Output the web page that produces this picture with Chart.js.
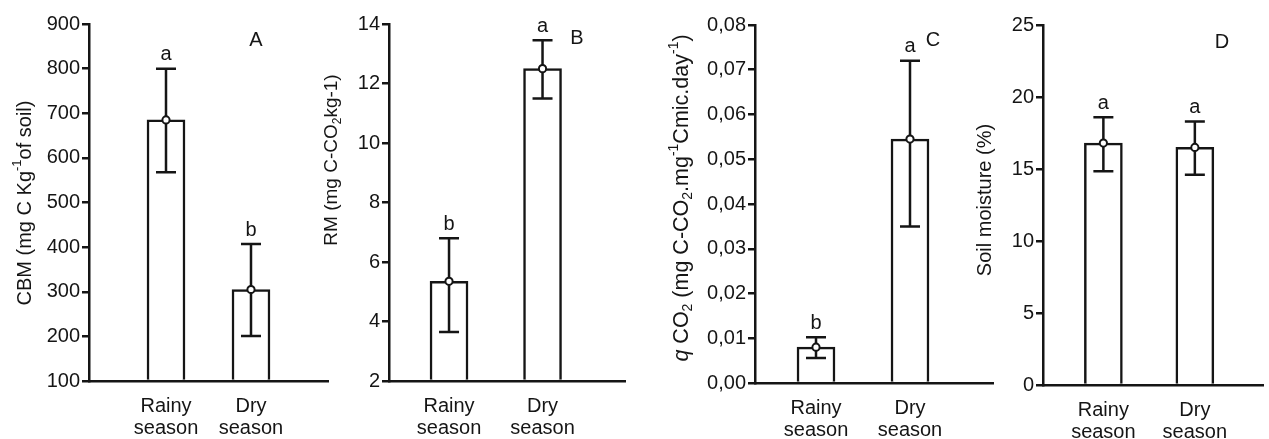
<!DOCTYPE html>
<html><head><meta charset="utf-8">
<script src="https://cdn.jsdelivr.net/npm/chart.js@4.4.1/dist/chart.umd.min.js"></script>
<style>
html,body{margin:0;padding:0;background:#fff;}
#wrap{position:relative;width:1269px;height:439px;overflow:hidden;background:#fff;}
canvas{position:absolute;left:0;top:0;}
</style></head><body>
<div id="wrap">
<canvas id="cA" width="1269" height="439"></canvas>
<canvas id="cB" width="1269" height="439"></canvas>
<canvas id="cC" width="1269" height="439"></canvas>
<canvas id="cD" width="1269" height="439"></canvas>
</div>
<script>
// ---------- DATA ----------
const categories = [['Rainy', 'season'], ['Dry', 'season']];

const cbmMean    = [685, 305];
const cbmUpper   = [800, 407];
const cbmLower   = [568, 201];
const cbmLetters = ['a', 'b'];
const cbmTicks   = [100, 200, 300, 400, 500, 600, 700, 800, 900];

const rmMean    = [5.35, 12.5];
const rmUpper   = [6.8, 13.45];
const rmLower   = [3.65, 11.5];
const rmLetters = ['b', 'a'];
const rmTicks   = [2, 4, 6, 8, 10, 12, 14];

const qco2Mean    = [0.008, 0.0545];
const qco2Upper   = [0.0102, 0.072];
const qco2Lower   = [0.0056, 0.035];
const qco2Letters = ['b', 'a'];
const qco2Ticks   = [0, 0.01, 0.02, 0.03, 0.04, 0.05, 0.06, 0.07, 0.08];

const moistMean    = [16.8, 16.5];
const moistUpper   = [18.6, 18.3];
const moistLower   = [14.85, 14.6];
const moistLetters = ['a', 'a'];
const moistTicks   = [0, 5, 10, 15, 20, 25];

// ---------- LAYOUT / STYLE ----------
const W = 1269, H = 439;
const INK = '#151515';
const LW = 2.5;
const FONT = '"Liberation Sans", Arial, Helvetica, sans-serif';
const Y_W = 70, X_H = 55;

const panels = [
  { id: 'cA', mean: cbmMean, upper: cbmUpper, lower: cbmLower, letters: cbmLetters, ticks: cbmTicks,
    fmt: v => String(v), axisX: 89, right: 328, top: 24, bottom: 381, xMin: 0.094, xMax: 2.906,
    tag: 'A', tagPos: [256, 40], titlePos: [25, 203], titleSize: 20,
    title: [{t: 'CBM (mg C Kg'}, {t: '-1', sup: true}, {t: 'of soil)'}] },
  { id: 'cB', mean: rmMean, upper: rmUpper, lower: rmLower, letters: rmLetters, ticks: rmTicks,
    fmt: v => String(v), axisX: 389, right: 625, top: 24, bottom: 381, xMin: 0.358, xMax: 2.882,
    tag: 'B', tagPos: [577, 38], titlePos: [332, 160], titleSize: 19,
    title: [{t: 'RM (mg C-CO'}, {t: '2', sub: true}, {t: 'kg-1)'}] },
  { id: 'cC', mean: qco2Mean, upper: qco2Upper, lower: qco2Lower, letters: qco2Letters, ticks: qco2Ticks,
    fmt: v => v.toFixed(2).replace('.', ','), axisX: 755, right: 993, top: 25, bottom: 383, xMin: 0.351, xMax: 2.883,
    tag: 'C', tagPos: [933, 40], titlePos: [682, 198], titleSize: 21.5,
    title: [{t: 'q', it: true}, {t: ' CO'}, {t: '2', sub: true}, {t: ' (mg C-CO'}, {t: '2', sub: true},
            {t: '.mg'}, {t: '-1', sup: true}, {t: 'Cmic.day'}, {t: '-1', sup: true}, {t: ')'}] },
  { id: 'cD', mean: moistMean, upper: moistUpper, lower: moistLower, letters: moistLetters, ticks: moistTicks,
    fmt: v => String(v), axisX: 1043, right: 1269, top: 25, bottom: 385, xMin: 0.34, xMax: 2.745,
    tag: 'D', tagPos: [1222, 42], titlePos: [985, 200], titleSize: 20,
    title: [{t: 'Soil moisture (%)'}] }
];

function drawRich(ctx, segs, cx, cy, size) {
  ctx.save();
  ctx.translate(cx, cy);
  ctx.rotate(-Math.PI / 2);
  const fontFor = s => (s.it ? 'italic ' : '') + ((s.sup || s.sub) ? Math.round(size * 0.65) : size) + 'px ' + FONT;
  let w = 0;
  const widths = segs.map(s => { ctx.font = fontFor(s); const m = ctx.measureText(s.t).width; w += m; return m; });
  let x = -w / 2;
  ctx.textBaseline = 'middle';
  ctx.textAlign = 'left';
  ctx.fillStyle = INK;
  segs.forEach((s, i) => {
    ctx.font = fontFor(s);
    const dy = s.sup ? -size * 0.36 : (s.sub ? size * 0.3 : 0);
    ctx.fillText(s.t, x, dy);
    x += widths[i];
  });
  ctx.restore();
}

function makePlugin(p) {
  return {
    id: 'panelExtras',
    afterDatasetDraw(chart, args) {
      if (args.meta.type !== 'bar') return;
      const ctx = chart.ctx, xs = chart.scales.x, ys = chart.scales.y;
      ctx.save();
      ctx.strokeStyle = INK;
      ctx.lineWidth = LW;
      p.upper.forEach((u, i) => {
        const x = xs.getPixelForValue(i + 1);
        const yU = ys.getPixelForValue(u), yL = ys.getPixelForValue(p.lower[i]);
        ctx.beginPath();
        ctx.moveTo(x, yU); ctx.lineTo(x, yL);
        ctx.moveTo(x - 10, yU); ctx.lineTo(x + 10, yU);
        ctx.moveTo(x - 10, yL); ctx.lineTo(x + 10, yL);
        ctx.stroke();
      });
      ctx.restore();
    },
    afterDraw(chart) {
      const ctx = chart.ctx, xs = chart.scales.x, ys = chart.scales.y;
      ctx.save();
      ctx.fillStyle = INK;
      ctx.font = '20px ' + FONT;
      ctx.textAlign = 'center';
      ctx.textBaseline = 'middle';
      p.letters.forEach((l, i) => {
        ctx.fillText(l, xs.getPixelForValue(i + 1), ys.getPixelForValue(p.upper[i]) - 14);
      });
      ctx.fillText(p.tag, p.tagPos[0], p.tagPos[1]);
      ctx.restore();
      drawRich(ctx, p.title, p.titlePos[0], p.titlePos[1], p.titleSize);
    }
  };
}

panels.forEach(p => {
  const ymin = p.ticks[0], ymax = p.ticks[p.ticks.length - 1];
  new Chart(document.getElementById(p.id), {
    type: 'bar',
    data: {
      datasets: [
        { type: 'line', data: p.mean.map((v, i) => ({x: i + 1, y: v})), showLine: false,
          pointRadius: 3.6, pointBorderWidth: 2, pointBackgroundColor: '#fff', pointBorderColor: INK, order: 0 },
        { type: 'bar', data: p.mean.map((v, i) => ({x: i + 1, y: v})), base: ymin,
          backgroundColor: '#fff', borderColor: INK, borderWidth: LW, borderSkipped: 'start',
          barThickness: 38, order: 1 }
      ]
    },
    options: {
      responsive: false,
      animation: false,
      devicePixelRatio: 1,
      layout: { padding: { left: p.axisX - Y_W, right: W - p.right, top: p.top, bottom: H - p.bottom - X_H } },
      plugins: { legend: { display: false }, tooltip: { enabled: false } },
      scales: {
        x: {
          type: 'linear', min: p.xMin, max: p.xMax, offset: false,
          grid: { display: false, drawTicks: false },
          border: { display: true, color: INK, width: LW },
          afterBuildTicks: s => { s.ticks = [1, 2].map(v => ({value: v})); },
          afterFit: s => { s.height = X_H; },
          ticks: { autoSkip: false, maxRotation: 0, padding: 14, color: INK,
                   font: { family: FONT, size: 20, lineHeight: 1.1 },
                   callback: v => categories[v - 1] }
        },
        y: {
          min: ymin, max: ymax,
          grid: { display: true, drawOnChartArea: false, drawTicks: true, tickLength: 7, color: INK, lineWidth: LW },
          border: { display: true, color: INK, width: LW },
          afterBuildTicks: s => { s.ticks = p.ticks.map(v => ({value: v})); },
          afterFit: s => { s.width = Y_W; },
          ticks: { padding: 2, color: INK, font: { family: FONT, size: 20 }, callback: v => p.fmt(v) }
        }
      }
    },
    plugins: [makePlugin(p)]
  });
});
</script>
</body></html>
